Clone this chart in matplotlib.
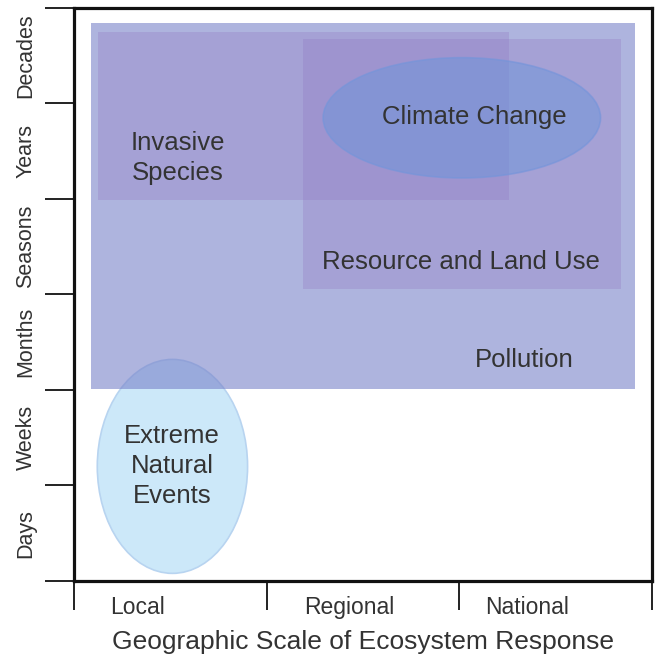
import matplotlib.pyplot as plt
from matplotlib.patches import Rectangle, Ellipse

plt.rcParams['font.family'] = ['Liberation Sans', 'DejaVu Sans']

# axis categories
time_labels = ['Days', 'Weeks', 'Months', 'Seasons', 'Years', 'Decades']
space_labels = ['Local', 'Regional', 'National']
space_label_pos = [0.33, 1.43, 2.35]

# stressors drawn as boxes: (x0, x1, y0, y1) in scale units
box_names = ['Pollution', 'Invasive\nSpecies', 'Resource and Land Use']
box_extent = [(0.09, 2.91, 2.01, 5.84),
              (0.125, 2.26, 3.99, 5.75),
              (1.19, 2.84, 3.06, 5.68)]
box_text_xy = [(2.335, 2.31), (0.54, 4.43), (2.01, 3.34)]
box_colors = [((0.47, 0.51, 0.79), 0.6), ((0.57, 0.47, 0.76), 0.3), ((0.57, 0.47, 0.76), 0.3)]
box_z = [1, 1.2, 1.3]

# stressors drawn as ellipses: (cx, cy, w, h)
ell_names = ['Climate Change', 'Extreme\nNatural\nEvents']
ell_extent = [(2.013, 4.85, 1.44, 1.26),
              (0.511, 1.20, 0.78, 2.24)]
ell_text_xy = [(2.08, 4.86), (0.51, 1.20)]
ell_face = [((0.40, 0.58, 0.86), 0.45), ((0.80, 0.91, 0.975), 1.0)]
ell_edge = [(0.45, 0.58, 0.86, 0.6), (0.72, 0.83, 0.94, 1.0)]
ell_z = [2, 0.5]

txt = '#333333'

fig = plt.figure(figsize=(6.57, 6.60), dpi=100)
ax = fig.add_axes([0.1126, 0.1197, 0.8798, 0.8682])

for (x0, x1, y0, y1), (c, a), z in zip(box_extent, box_colors, box_z):
    ax.add_patch(Rectangle((x0, y0), x1 - x0, y1 - y0, facecolor=c, alpha=a,
                           edgecolor='none', zorder=z))

for (cx, cy, w, h), (c, a), ec, z in zip(ell_extent, ell_face, ell_edge, ell_z):
    ax.add_patch(Ellipse((cx, cy), w, h, facecolor=(*c, a), edgecolor=ec,
                         linewidth=1.2, zorder=z))

for name, (x, y) in zip(box_names + ell_names, box_text_xy + ell_text_xy):
    ax.text(x, y, name, ha='center', va='center', fontsize=18.5, color=txt,
            linespacing=1.32, zorder=3)

ax.set_xlim(0, len(space_labels))
ax.set_ylim(0, len(time_labels))

ax.set_xticks(range(len(space_labels) + 1))
ax.set_xticklabels([])
ax.set_yticks(range(len(time_labels) + 1))
ax.set_yticklabels([])
ax.tick_params(axis='both', which='major', direction='out', length=21, width=1.4,
               color='#222222')

ax.set_xticks(space_label_pos, minor=True)
ax.set_xticklabels(space_labels, minor=True)
ax.set_yticks([i + 0.5 for i in range(len(time_labels))], minor=True)
ax.set_yticklabels(time_labels, minor=True, rotation=90, va='center')
ax.tick_params(axis='x', which='minor', length=0, pad=11, labelsize=16.5, labelcolor=txt)
ax.tick_params(axis='y', which='minor', length=0, pad=27, labelsize=15.5, labelcolor=txt)

for s in ax.spines.values():
    s.set_linewidth(2.3)
    s.set_color('#111111')

ax.set_xlabel('Geographic Scale of Ecosystem Response', fontsize=19, color=txt, labelpad=8)

fig.savefig('out.png', dpi=100)
